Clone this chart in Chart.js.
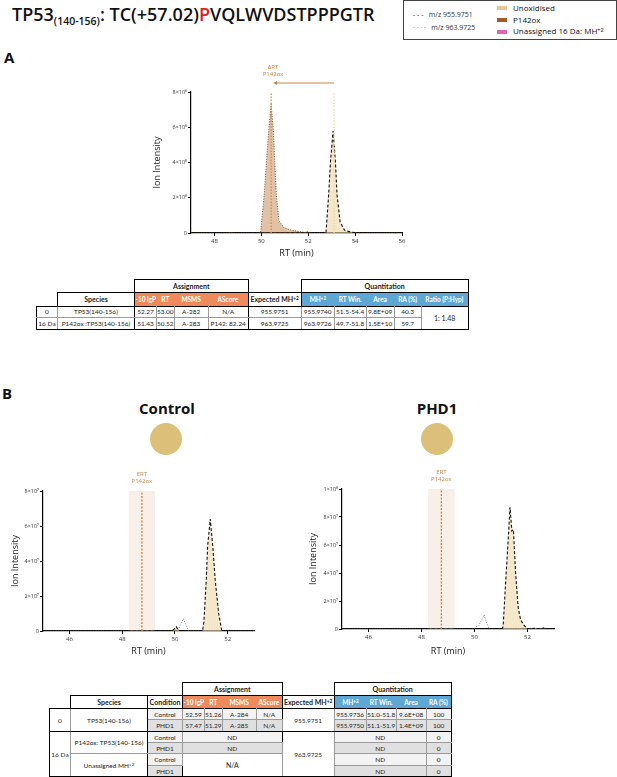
<!DOCTYPE html>
<html>
<head>
<meta charset="utf-8">
<script src="https://cdn.jsdelivr.net/npm/chart.js"></script>
<style>
body { margin: 0; width: 617px; height: 777px; position: relative; background: #fff; font-family: 'Open Sans', sans-serif; overflow: hidden; color: #111; }
.abs { position: absolute; }
#title { left: 12px; top: 2px; font-size: 18px; font-weight: 600; white-space: nowrap; }
#title sub { font-size: 10.5px; vertical-align: -4px; }
#legend { left: 403px; top: 0px; width: 212px; height: 38px; border: 1px solid #444; }
.lg { position: absolute; font-size: 8px; white-space: nowrap; line-height: 9px; }
.lgs { position: absolute; font-size: 7px; color: #333; white-space: nowrap; line-height: 8px; }
.sw { position: absolute; width: 10px; height: 4px; }
.panel { font-weight: 700; font-size: 15px; }
.ctitle { font-weight: 700; font-size: 15px; transform: translateX(-50%); }
.dot { width: 32px; height: 32px; border-radius: 50%; background: #dcc07a; }
canvas { position: absolute; }
table { position: absolute; border-collapse: collapse; table-layout: fixed; font-family: Lato, sans-serif; font-size: 6.5px; color: #222; }
td { padding: 0; text-align: center; white-space: nowrap; overflow: hidden; }
td.d { border: 1px solid #9a9a9a; }
.hb { font-weight: 700; font-size: 7px; }
.or { background: #ef8a5c; color: #fff; font-weight: 700; }
.bl { background: #5ea6d4; color: #fff; font-weight: 700; }
.L { border-left: 1.5px solid #000 !important; }
.R { border-right: 1.5px solid #000 !important; }
.T { border-top: 1.5px solid #000 !important; }
.B { border-bottom: 1.5px solid #000 !important; }
.g1 { background: #f3f3f3; }
.g2 { background: #e0e0e0; }
sup { font-size: 70%; vertical-align: 2px; line-height: 0; }
</style>
</head>
<body>

<div id="title" class="abs">TP53<sub>(140-156)</sub>: TC(+57.02)<span style="color:#e0201b">P</span>VQLWVDSTPPPGTR</div>

<div id="legend" class="abs">
  <div class="lgs" style="left:9px;top:10px;"><span style="color:#111">- - -</span>&nbsp;&nbsp; m/z 955.9751</div>
  <div class="lgs" style="left:9px;top:23px;"><span style="color:#777">· · · ·</span>&nbsp;&nbsp; m/z 963.9725</div>
  <div class="sw" style="left:93px;top:5px;background:#e6c98e;"></div>
  <div class="sw" style="left:93px;top:17px;background:#a65a22;"></div>
  <div class="sw" style="left:93px;top:29px;background:#e063b4;"></div>
  <div class="lg" style="left:109px;top:2px;">Unoxidised</div>
  <div class="lg" style="left:109px;top:13.5px;">P142ox</div>
  <div class="lg" style="left:109px;top:25px;">Unassigned 16 Da: MH<sup>+2</sup></div>
</div>

<div class="abs panel" style="left:4px;top:47px;">A</div>
<div class="abs panel" style="left:2px;top:383px;">B</div>

<canvas id="chartA" width="280" height="205" style="left:140px;top:60px;"></canvas>

<table style="left:36px;top:279px;">
  <colgroup>
    <col style="width:21px"><col style="width:77px"><col style="width:22px"><col style="width:13px"><col style="width:34px"><col style="width:40px">
    <col style="width:53px"><col style="width:33px"><col style="width:32px"><col style="width:28px"><col style="width:27px"><col style="width:47px">
  </colgroup>
  <tr style="height:13px">
    <td></td><td></td>
    <td colspan="4" class="hb L R T B">Assignment</td>
    <td></td>
    <td colspan="5" class="hb L R T B">Quantitation</td>
  </tr>
  <tr style="height:13.5px">
    <td></td>
    <td class="hb L T R">Species</td>
    <td class="or L">-10 lgP</td><td class="or">RT</td><td class="or">MSMS</td><td class="or R">AScore</td>
    <td class="hb T">Expected MH<sup>+2</sup></td>
    <td class="bl L">MH<sup>+2</sup></td><td class="bl">RT Win.</td><td class="bl">Area</td><td class="bl">RA (%)</td><td class="bl R">Ratio (P:Hyp)</td>
  </tr>
  <tr style="height:11.5px">
    <td class="d L T">0</td><td class="d L T R">TP53(140-156)</td>
    <td class="d T">52.27</td><td class="d T">53.00</td><td class="d T">A-282</td><td class="d T R">N/A</td>
    <td class="d T">955.9751</td>
    <td class="d T L">955.9740</td><td class="d T">51.5-54.4</td><td class="d T">9.8E+09</td><td class="d T">40.3</td>
    <td rowspan="2" class="d T R B" style="font-size:7px">1: 1.48</td>
  </tr>
  <tr style="height:12px">
    <td class="d L B">16 Da</td><td class="d L R B">P142ox :TP53(140-156)</td>
    <td class="d B">51.43</td><td class="d B">50.52</td><td class="d B">A-283</td><td class="d B R">P142: 82.24</td>
    <td class="d B">963.9725</td>
    <td class="d B L">963.9726</td><td class="d B">49.7-51.8</td><td class="d B">1.5E+10</td><td class="d B">59.7</td>
  </tr>
</table>

<div class="abs ctitle" style="left:167px;top:398px;">Control</div>
<div class="abs ctitle" style="left:437px;top:398px;">PHD1</div>
<div class="abs dot" style="left:150px;top:423px;"></div>
<div class="abs dot" style="left:421px;top:423px;"></div>

<canvas id="chartC" width="270" height="201" style="left:0px;top:460px;"></canvas>
<canvas id="chartP" width="270" height="201" style="left:300px;top:458px;"></canvas>

<table style="left:49px;top:682px;">
  <colgroup>
    <col style="width:21px"><col style="width:77px"><col style="width:35px"><col style="width:22px"><col style="width:16px"><col style="width:34px">
    <col style="width:26px"><col style="width:52px"><col style="width:32px"><col style="width:30px"><col style="width:30px"><col style="width:25px">
  </colgroup>
  <tr style="height:13px">
    <td></td><td></td><td></td>
    <td colspan="4" class="hb L R T B">Assignment</td>
    <td></td>
    <td colspan="4" class="hb L R T B">Quantitation</td>
  </tr>
  <tr style="height:13px">
    <td></td>
    <td class="hb L T R">Species</td>
    <td class="hb T R">Condition</td>
    <td class="or L">-10 lgP</td><td class="or">RT</td><td class="or">MSMS</td><td class="or R">AScore</td>
    <td class="hb T">Expected MH<sup>+2</sup></td>
    <td class="bl L">MH<sup>+2</sup></td><td class="bl">RT Win.</td><td class="bl">Area</td><td class="bl R">RA (%)</td>
  </tr>
  <tr style="height:11px">
    <td rowspan="2" class="d L T B">0</td><td rowspan="2" class="d L T R B">TP53(140-156)</td>
    <td class="d T g1">Control</td>
    <td class="d T L g1">52.59</td><td class="d T g1">51.26</td><td class="d T g1">A-284</td><td class="d T R g1">N/A</td>
    <td rowspan="2" class="d T B">955.9751</td>
    <td class="d T L g1">955.9736</td><td class="d T g1">51.0-51.8</td><td class="d T g1">9.6E+08</td><td class="d T R g1">100</td>
  </tr>
  <tr style="height:12px">
    <td class="d B g2">PHD1</td>
    <td class="d B L g2">57.47</td><td class="d B g2">51.29</td><td class="d B g2">A-285</td><td class="d B R g2">N/A</td>
    <td class="d B L g2">955.9750</td><td class="d B g2">51.1-51.9</td><td class="d B g2">1.4E+09</td><td class="d B R g2">100</td>
  </tr>
  <tr style="height:11px">
    <td rowspan="4" class="d L B">16 Da</td><td rowspan="2" class="d L R">P142ox: TP53(140-156)</td>
    <td class="d g1">Control</td>
    <td colspan="4" class="d L R g1">ND</td>
    <td rowspan="4" class="d B">963.9725</td>
    <td colspan="3" class="d L g1">ND</td><td class="d R g1">0</td>
  </tr>
  <tr style="height:11px">
    <td class="d g2">PHD1</td>
    <td colspan="4" class="d L R g2">ND</td>
    <td colspan="3" class="d L g2">ND</td><td class="d R g2">0</td>
  </tr>
  <tr style="height:12px">
    <td rowspan="2" class="d L R B">Unassigned MH<sup>+2</sup></td>
    <td class="d g1">Control</td>
    <td colspan="4" rowspan="2" class="d L R B" style="font-size:7px">N/A</td>
    <td colspan="3" class="d L g1">ND</td><td class="d R g1">0</td>
  </tr>
  <tr style="height:11px">
    <td class="d B g2">PHD1</td>
    <td colspan="3" class="d L B g2">ND</td><td class="d R B g2">0</td>
  </tr>
</table>

<script>
// panel A: retention time (min) and ion intensity
const rtA955 = [47, 52.7, 52.76, 52.87, 52.95, 53.06, 53.16, 53.23, 53.36, 53.55, 53.8, 54.1, 56];
const intA955 = [0, 0, 0.05e8, 2.15e8, 4.05e8, 5.78e8, 4.05e8, 2.15e8, 0.64e8, 0.15e8, 0.06e8, 0, 0];
const rtA963 = [47, 48.5, 48.7, 48.9, 49.9, 49.97, 50.12, 50.22, 50.32, 50.42, 50.51, 50.57, 50.64, 50.75, 50.97, 51.3, 51.62, 51.9, 51.95, 52.0, 52.2, 56];
const intA963 = [0, 0, 0.03e8, 0, 0, 0.05e8, 2.15e8, 4.05e8, 5.9e8, 7.3e8, 5.9e8, 4.05e8, 2.15e8, 0.7e8, 0.3e8, 0.15e8, 0.08e8, 0.04e8, 0.1e8, 0.03e8, 0, 0];
const xTicksA = [48, 50, 52, 54, 56];
const yTicksA = [0, 2e8, 4e8, 6e8, 8e8];
const yLabelsA = ['0', '2×10⁸', '4×10⁸', '6×10⁸', '8×10⁸'];
const rtMarksA = [50.42, 53.1];

// panel B, control
const rtC955 = [45, 49.9, 50.0, 50.05, 50.1, 50.2, 51.05, 51.1, 51.19, 51.24, 51.34, 51.44, 51.53, 51.66, 51.78, 53];
const intC955 = [0, 0, 0.15e7, 0.25e7, 0.12e7, 0, 0, 0.5e7, 2.9e7, 4.8e7, 6.4e7, 4.8e7, 2.9e7, 1.0e7, 0, 0];
const rtC963 = [45, 49.85, 50.0, 50.14, 50.22, 50.32, 50.42, 50.52, 53];
const intC963 = [0, 0, 0.1e7, 0.1e7, 0.4e7, 0.7e7, 0.35e7, 0, 0];
const yTicksC = [0, 2e7, 4e7, 6e7, 8e7];
const yLabelsC = ['0', '2×10⁷', '4×10⁷', '6×10⁷', '8×10⁷'];

// panel B, PHD1
const rtP955 = [45, 51.05, 51.08, 51.18, 51.26, 51.34, 51.41, 51.47, 51.55, 51.65, 51.74, 51.85, 52.0, 52.3, 52.4, 52.6, 52.7, 53];
const intP955 = [0, 0, 0.2e7, 3.5e7, 6.0e7, 8.7e7, 7.0e7, 7.1e7, 4.0e7, 1.5e7, 0.67e7, 0.3e7, 0, 0.05e7, 0, 0.06e7, 0, 0];
const rtP963 = [45, 49.98, 50.05, 50.15, 50.25, 50.36, 50.45, 50.55, 53];
const intP963 = [0, 0, 0.15e7, 0.2e7, 0.6e7, 1.0e7, 0.5e7, 0, 0];
const yTicksP = [0, 2e7, 4e7, 6e7, 8e7, 1e8];
const yLabelsP = ['0', '2×10⁷', '4×10⁷', '6×10⁷', '8×10⁷', '1×10⁸'];

const xTicksB = [46, 48, 50, 52];
const ertWindow = [48.25, 49.25];
const ertCentre = 48.75;

const pts = (xs, ys) => xs.map((x, i) => ({ x: x, y: ys[i] }));

const markPlugin = {
    id: 'marks',
    beforeDatasetsDraw(chart, args, o) {
        if (!o.band) return;
        const { ctx, chartArea: a, scales: { x } } = chart;
        const x0 = x.getPixelForValue(o.band[0]);
        const x1 = x.getPixelForValue(o.band[1]);
        ctx.save();
        ctx.fillStyle = 'rgba(232, 210, 188, 0.35)';
        ctx.fillRect(x0, a.top, x1 - x0, a.bottom - a.top);
        ctx.restore();
    },
    afterDatasetsDraw(chart, args, o) {
        const { ctx, chartArea: a, scales: { x } } = chart;
        ctx.save();
        (o.lines || []).forEach(l => {
            const px = x.getPixelForValue(l.at);
            ctx.strokeStyle = l.color;
            ctx.lineWidth = 1.3;
            ctx.setLineDash(l.dash);
            ctx.beginPath();
            ctx.moveTo(px, a.bottom);
            ctx.lineTo(px, a.top);
            ctx.stroke();
        });
        ctx.setLineDash([]);
        if (o.arrow) {
            const xa = x.getPixelForValue(o.arrow[0]);
            const xb = x.getPixelForValue(o.arrow[1]);
            const ya = a.top - 9;
            ctx.strokeStyle = '#c98546';
            ctx.fillStyle = '#c98546';
            ctx.lineWidth = 1;
            ctx.beginPath();
            ctx.moveTo(xa, ya);
            ctx.lineTo(xb + 3, ya);
            ctx.stroke();
            ctx.beginPath();
            ctx.moveTo(xb, ya);
            ctx.lineTo(xb + 4, ya - 2);
            ctx.lineTo(xb + 4, ya + 2);
            ctx.closePath();
            ctx.fill();
        }
        if (o.label) {
            ctx.fillStyle = '#c98546';
            ctx.font = '6px "Open Sans"';
            ctx.textAlign = 'center';
            ctx.textBaseline = 'middle';
            const lx = x.getPixelForValue(o.labelAt);
            o.label.forEach((t, i) => ctx.fillText(t, lx, a.top - o.labelGap + i * 7.5));
        }
        ctx.restore();
    }
};

function chromatogram(id, cfg) {
    const ticksX = cfg.xTicks;
    const ticksY = cfg.yTicks;
    return new Chart(document.getElementById(id), {
        type: 'line',
        data: {
            datasets: [
                {
                    data: pts(cfg.rt955, cfg.int955),
                    borderColor: '#111',
                    borderDash: [3, 2],
                    borderWidth: 1.1,
                    backgroundColor: 'rgba(238, 216, 166, 0.6)',
                    fill: 'origin',
                    pointRadius: 0,
                    tension: 0
                },
                {
                    data: pts(cfg.rt963, cfg.int963),
                    borderColor: cfg.c963,
                    borderDash: [1, 1.5],
                    borderWidth: 0.9,
                    backgroundColor: cfg.f963 || 'rgba(0,0,0,0)',
                    fill: cfg.f963 ? 'origin' : false,
                    pointRadius: 0,
                    tension: 0
                }
            ]
        },
        options: {
            responsive: false,
            animation: false,
            events: [],
            layout: { padding: { left: 0, top: cfg.padTop, right: cfg.padRight, bottom: 0 } },
            plugins: {
                legend: { display: false },
                tooltip: { enabled: false },
                marks: cfg.marks
            },
            scales: {
                x: {
                    type: 'linear',
                    min: cfg.xMin,
                    max: cfg.xMax,
                    afterBuildTicks: s => { s.ticks = ticksX.map(v => ({ value: v })); },
                    afterFit: s => { s.height = cfg.xHeight; },
                    grid: { drawOnChartArea: false, drawTicks: true, tickLength: 3, color: '#000' },
                    border: { display: true, color: '#000', width: 1.2 },
                    ticks: { font: { size: 6, family: 'Open Sans' }, color: '#333', padding: 2, maxRotation: 0 },
                    title: { display: true, text: 'RT (min)', font: { size: 9, family: 'Open Sans' }, color: '#222', padding: { top: 0, bottom: cfg.xTitlePad } }
                },
                y: {
                    min: 0,
                    max: ticksY[ticksY.length - 1],
                    afterBuildTicks: s => { s.ticks = ticksY.map(v => ({ value: v })); },
                    afterFit: s => { s.width = cfg.yWidth; },
                    grid: { drawOnChartArea: false, drawTicks: true, tickLength: 3, color: '#000' },
                    border: { display: true, color: '#000', width: 1.2 },
                    ticks: {
                        font: { size: 5.5, family: 'Open Sans' },
                        color: '#333',
                        padding: 1,
                        callback: v => cfg.yLabels[ticksY.indexOf(v)]
                    },
                    title: { display: true, text: 'Ion Intensity', font: { size: 9, family: 'Open Sans' }, color: '#222', padding: { top: cfg.yTitlePad, bottom: 0 } }
                }
            }
        },
        plugins: [markPlugin]
    });
}

chromatogram('chartA', {
    rt955: rtA955, int955: intA955, rt963: rtA963, int963: intA963,
    c963: '#6a4424', f963: 'rgba(190, 120, 60, 0.45)',
    xMin: 47, xMax: 56, xTicks: xTicksA, yTicks: yTicksA, yLabels: yLabelsA,
    padTop: 32, padRight: 18, xHeight: 32, yWidth: 51, xTitlePad: 6, yTitlePad: 12,
    marks: {
        lines: [
            { at: rtMarksA[0], color: '#d58b4c', dash: [1.5, 1.5] },
            { at: rtMarksA[1], color: '#efd6a6', dash: [1.5, 1.5] }
        ],
        arrow: [rtMarksA[1], rtMarksA[0] + 0.08],
        label: ['ΔRT', 'P142ox'],
        labelAt: 50.5,
        labelGap: 25
    }
});

chromatogram('chartC', {
    rt955: rtC955, int955: intC955, rt963: rtC963, int963: intC963,
    c963: '#777',
    xMin: 45, xMax: 53, xTicks: xTicksB, yTicks: yTicksC, yLabels: yLabelsC,
    padTop: 31, padRight: 16, xHeight: 30, yWidth: 43, xTitlePad: 4, yTitlePad: 10,
    marks: {
        band: ertWindow,
        lines: [{ at: ertCentre, color: '#d0803e', dash: [2, 1.5] }],
        label: ['ERT', 'P142ox'],
        labelAt: ertCentre,
        labelGap: 17
    }
});

chromatogram('chartP', {
    rt955: rtP955, int955: intP955, rt963: rtP963, int963: intP963,
    c963: '#777',
    xMin: 45, xMax: 53, xTicks: xTicksB, yTicks: yTicksP, yLabels: yLabelsP,
    padTop: 31, padRight: 16, xHeight: 30, yWidth: 42, xTitlePad: 2, yTitlePad: 8,
    marks: {
        band: ertWindow,
        lines: [{ at: ertCentre, color: '#d0803e', dash: [2, 1.5] }],
        label: ['ERT', 'P142ox'],
        labelAt: ertCentre,
        labelGap: 17
    }
});
</script>
</body>
</html>
